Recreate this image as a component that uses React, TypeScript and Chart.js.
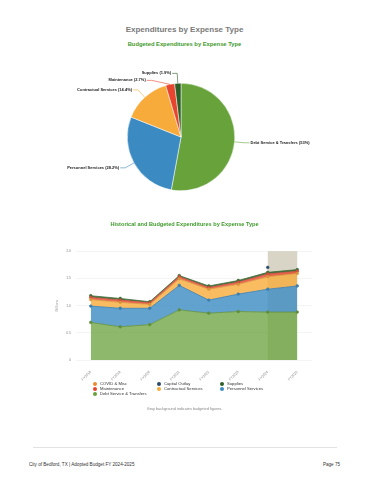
import React, { useEffect, useRef } from "react";
import { Chart, registerables } from "chart.js";
Chart.register(...registerables);

// ---------- Pie data ----------
const pieLabels = ["Debt Service & Transfers", "Personnel Services", "Contractual Services", "Maintenance", "Supplies"];
const piePercents = [53, 28.2, 14.4, 2.7, 1.9];
const pieColors = ["#68a23b", "#3b8bc2", "#f7ab3a", "#e8452f", "#2d5e27"];

// ---------- Area data (millions) ----------
const years = ["FY2018", "FY2019", "FY2020", "FY2021", "FY2022", "FY2023", "FY2024", "FY2025"];
const debtService = [0.69, 0.61, 0.65, 0.92, 0.86, 0.89, 0.88, 0.88];
const personnel = [0.30, 0.34, 0.30, 0.45, 0.24, 0.32, 0.42, 0.48];
const contractual = [0.12, 0.11, 0.07, 0.12, 0.20, 0.18, 0.23, 0.23];
const maintenance = [0.04, 0.04, 0.03, 0.04, 0.03, 0.04, 0.05, 0.04];
const supplies = [0.03, 0.03, 0.02, 0.02, 0.03, 0.03, 0.03, 0.03];
const capitalOutlay = [null, null, null, null, null, null, 0.09, null];
const covidMisc = [null, null, null, null, null, null, null, null];
const yTicks = [0, 0.5, 1, 1.5, 2];
const budgetStart = "FY2024";
const budgetEnd = "FY2025";

const legendItems = [
  { label: "COVID & Misc", color: "#ec8a2e" },
  { label: "Capital Outlay", color: "#2c4a6b" },
  { label: "Supplies", color: "#2d5e27" },
  { label: "Maintenance", color: "#e8452f" },
  { label: "Contractual Services", color: "#f7ab3a" },
  { label: "Personnel Services", color: "#3b8bc2" },
  { label: "Debt Service & Transfers", color: "#68a23b" },
];

const FONT = "'Liberation Sans', Arial, Helvetica, sans-serif";

const pieLabelPlugin = {
  id: "pieOutsideLabels",
  afterDatasetsDraw(chart: any) {
    const meta = chart.getDatasetMeta(0);
    const ctx = chart.ctx;
    const dist = 10;
    const items = meta.data.map((arc: any, i: number) => {
      const p = arc.getProps(["x", "y", "startAngle", "endAngle", "outerRadius"], true);
      const mid = (p.startAngle + p.endAngle) / 2;
      const R = p.outerRadius + dist;
      return {
        i,
        cx: p.x,
        cy: p.y,
        r: p.outerRadius,
        R,
        mid,
        side: Math.cos(mid) >= 0 ? 1 : -1,
        ly: p.y + R * Math.sin(mid),
      };
    });
    [1, -1].forEach((side) => {
      const s = items.filter((it: any) => it.side === side).sort((a: any, b: any) => a.ly - b.ly);
      for (let k = 1; k < s.length; k++) {
        if (s[k].ly < s[k - 1].ly + 7) s[k].ly = s[k - 1].ly + 7;
      }
    });
    ctx.save();
    ctx.font = `bold 4px ${FONT}`;
    ctx.textBaseline = "middle";
    items.forEach((it: any) => {
      const dy = it.ly - it.cy;
      const lx = it.cx + it.side * Math.sqrt(Math.max(0, it.R * it.R - dy * dy));
      const ex = it.cx + it.r * Math.cos(it.mid);
      const ey = it.cy + it.r * Math.sin(it.mid);
      ctx.strokeStyle = pieColors[it.i];
      ctx.lineWidth = 0.6;
      ctx.beginPath();
      ctx.moveTo(ex, ey);
      ctx.lineTo(lx, it.ly);
      ctx.lineTo(lx + it.side * 5, it.ly);
      ctx.stroke();
      ctx.fillStyle = "#222";
      ctx.textAlign = it.side > 0 ? "left" : "right";
      ctx.fillText(`${pieLabels[it.i]} (${piePercents[it.i]}%)`, lx + it.side * 6, it.ly);
    });
    ctx.restore();
  },
};

const budgetBandPlugin = {
  id: "budgetBand",
  beforeDatasetsDraw(chart: any) {
    const { ctx, chartArea, scales } = chart;
    const x0 = scales.x.getPixelForValue(years.indexOf(budgetStart));
    const x1 = scales.x.getPixelForValue(years.indexOf(budgetEnd));
    ctx.save();
    ctx.fillStyle = "#d8d5c6";
    ctx.fillRect(x0, chartArea.top, x1 - x0, chartArea.bottom - chartArea.top);
    ctx.restore();
  },
};

function PieChart() {
  const ref = useRef<HTMLCanvasElement>(null);
  useEffect(() => {
    const chart = new Chart(ref.current as HTMLCanvasElement, {
      type: "pie",
      data: {
        labels: pieLabels,
        datasets: [
          {
            data: piePercents,
            backgroundColor: pieColors,
            borderColor: "#ffffff",
            borderWidth: 0.5,
            hoverOffset: 0,
          },
        ],
      },
      options: {
        responsive: false,
        animation: false,
        layout: { padding: { left: 0, right: 8, top: 33, bottom: 29 } },
        plugins: { legend: { display: false }, tooltip: { enabled: false } },
      },
      plugins: [pieLabelPlugin],
    } as any);
    return () => chart.destroy();
  }, []);
  return (
    <canvas
      ref={ref}
      width={370}
      height={170}
      style={{ position: "absolute", left: 0, top: 50, width: 370, height: 170 }}
    />
  );
}

function mkSet(label: string, data: any[], fill: string, line: string, fillMode: any) {
  return {
    label,
    data,
    backgroundColor: fill,
    borderColor: line,
    borderWidth: 0.8,
    pointRadius: 1.4,
    pointBackgroundColor: line,
    pointBorderColor: line,
    pointBorderWidth: 0.5,
    fill: fillMode,
    tension: 0,
    spanGaps: false,
  };
}

function AreaChart() {
  const ref = useRef<HTMLCanvasElement>(null);
  useEffect(() => {
    const chart = new Chart(ref.current as HTMLCanvasElement, {
      type: "line",
      data: {
        labels: years,
        datasets: [
          mkSet("Debt Service & Transfers", debtService, "rgba(104,162,59,0.75)", "#5f8f3c", "origin"),
          mkSet("Personnel Services", personnel, "rgba(59,139,194,0.8)", "#3f7fae", "-1"),
          mkSet("Contractual Services", contractual, "rgba(247,171,58,0.8)", "#d9953a", "-1"),
          mkSet("Maintenance", maintenance, "rgba(232,69,47,0.8)", "#c9503a", "-1"),
          mkSet("Supplies", supplies, "rgba(45,94,39,0.85)", "#3d6a36", "-1"),
          mkSet("Capital Outlay", capitalOutlay, "rgba(44,74,107,0.8)", "#2c4a6b", "-1"),
          mkSet("COVID & Misc", covidMisc, "rgba(236,138,46,0.8)", "#ec8a2e", "-1"),
        ],
      },
      options: {
        responsive: false,
        animation: false,
        layout: { padding: { left: 0, right: 18, top: 6, bottom: 0 } },
        plugins: { legend: { display: false }, tooltip: { enabled: false } },
        scales: {
          x: {
            type: "category",
            offset: true,
            grid: { display: false },
            border: { display: false },
            ticks: {
              minRotation: 45,
              maxRotation: 45,
              autoSkip: false,
              font: { size: 3.5, family: FONT },
              color: "#888",
              padding: 2,
            },
            afterFit: (s: any) => {
              s.height = 24;
            },
          },
          y: {
            stacked: true,
            min: yTicks[0],
            max: yTicks[yTicks.length - 1],
            afterBuildTicks: (s: any) => {
              s.ticks = yTicks.map((v) => ({ value: v }));
            },
            ticks: { font: { size: 3.5, family: FONT }, color: "#888", padding: 5 },
            grid: { color: "#ececec", drawTicks: false, lineWidth: 0.6 },
            border: { display: false },
            title: {
              display: true,
              text: "Millions",
              font: { size: 3.5, family: FONT },
              color: "#999",
              padding: { top: 15, bottom: 0 },
            },
            afterFit: (s: any) => {
              s.width = 36;
            },
          },
        },
      },
      plugins: [budgetBandPlugin],
    } as any);
    return () => chart.destroy();
  }, []);
  return (
    <canvas
      ref={ref}
      width={290}
      height={140}
      style={{ position: "absolute", left: 40, top: 244, width: 290, height: 140 }}
    />
  );
}

function CText(props: { y: number; size: number; color: string; bold?: boolean; children: any }) {
  return (
    <div
      style={{
        position: "absolute",
        left: 0,
        width: 369,
        top: props.y - 5,
        height: 10,
        lineHeight: "10px",
        textAlign: "center",
        fontSize: props.size,
        color: props.color,
        fontWeight: props.bold ? "bold" : "normal",
        fontFamily: FONT,
        whiteSpace: "nowrap",
      }}
    >
      {props.children}
    </div>
  );
}

export default function App() {
  const colX = [95, 159, 222];
  const rowY = [384, 388.8, 393.5];
  return (
    <div
      style={{
        position: "absolute",
        left: 0,
        top: 0,
        width: 370,
        height: 480,
        background: "#ffffff",
        overflow: "hidden",
        fontFamily: FONT,
      }}
    >
      <CText y={30} size={8} color="#7a7a7a" bold>
        Expenditures by Expense Type
      </CText>
      <CText y={43.7} size={5.8} color="#3f9a2c" bold>
        Budgeted Expenditures by Expense Type
      </CText>
      <PieChart />
      <CText y={224} size={5.6} color="#3f9a2c" bold>
        Historical and Budgeted Expenditures by Expense Type
      </CText>
      <AreaChart />
      {legendItems.map((it, i) => {
        const cx = colX[i % 3];
        const cy = rowY[Math.floor(i / 3)];
        return (
          <div key={it.label}>
            <div
              style={{
                position: "absolute",
                left: cx - 2,
                top: cy - 2,
                width: 4,
                height: 4,
                borderRadius: 2,
                background: it.color,
              }}
            />
            <div
              style={{
                position: "absolute",
                left: cx + 5,
                top: cy - 4,
                height: 8,
                lineHeight: "8px",
                fontSize: 4.2,
                color: "#333",
                whiteSpace: "nowrap",
              }}
            >
              {it.label}
            </div>
          </div>
        );
      })}
      <CText y={409} size={3.8} color="#888">
        Gray background indicates budgeted figures.
      </CText>
      <div
        style={{ position: "absolute", left: 33, top: 447, width: 304, height: 1, background: "#e2e2e2" }}
      />
      <div
        style={{
          position: "absolute",
          left: 29,
          top: 460,
          height: 10,
          lineHeight: "10px",
          fontSize: 4.6,
          color: "#333",
          whiteSpace: "nowrap",
        }}
      >
        City of Bedford, TX | Adopted Budget FY 2024-2025
      </div>
      <div
        style={{
          position: "absolute",
          right: 30,
          top: 460,
          height: 10,
          lineHeight: "10px",
          fontSize: 4.6,
          color: "#333",
          whiteSpace: "nowrap",
        }}
      >
        Page 75
      </div>
    </div>
  );
}
